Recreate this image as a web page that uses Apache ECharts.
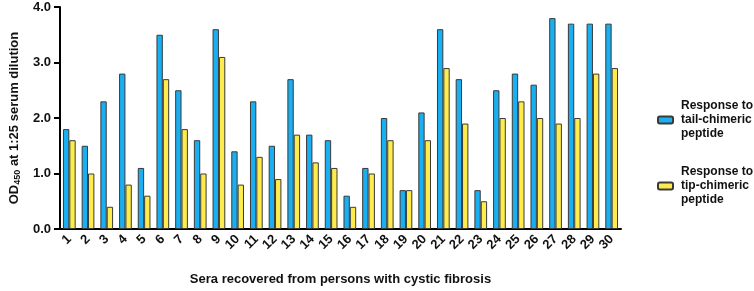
<!DOCTYPE html>
<html>
<head>
<meta charset="utf-8">
<script src="https://cdn.jsdelivr.net/npm/echarts@6/dist/echarts.min.js"></script>
<style>
  html, body { margin: 0; padding: 0; background: #fff; }
  #chart { width: 754px; height: 291px; }
</style>
</head>
<body>
<div id="chart"></div>
<script>
var sera = ['1','2','3','4','5','6','7','8','9','10','11','12','13','14','15',
            '16','17','18','19','20','21','22','23','24','25','26','27','28','29','30'];
var tailResponse = [1.8,1.5,2.3,2.8,1.1,3.5,2.5,1.6,3.6,1.4,2.3,1.5,2.7,1.7,1.6,
                    0.6,1.1,2.0,0.7,2.1,3.6,2.7,0.7,2.5,2.8,2.6,3.8,3.7,3.7,3.7];
var tipResponse = [1.6,1.0,0.4,0.8,0.6,2.7,1.8,1.0,3.1,0.8,1.3,0.9,1.7,1.2,1.1,
                   0.4,1.0,1.6,0.7,1.6,2.9,1.9,0.5,2.0,2.3,2.0,1.9,2.0,2.8,2.9];
var seriesNames = ['Response to\ntail-chimeric\npeptide', 'Response to\ntip-chimeric\npeptide'];

var font = 'Liberation Sans, Arial, sans-serif';
var chart = echarts.init(document.getElementById('chart'));

var barStyle = function (color) {
    return { color: color, borderColor: '#3a3a3a', borderWidth: 1 };
};

// one legend block per series so each can sit where the figure puts it
var legendAt = function (name, top) {
    return {
        orient: 'vertical',
        left: 652,
        top: top,
        itemWidth: 15,
        itemHeight: 7,
        textStyle: { fontFamily: font, fontWeight: 'bold', fontSize: 12, color: '#111', lineHeight: 14, padding: [0, 0, 0, 3] },
        data: [name]
    };
};

chart.setOption({
    animation: false,
    grid: { left: 52, right: 133, top: 7, bottom: 57, containLabel: false },
    legend: [legendAt(seriesNames[0], 94), legendAt(seriesNames[1], 160)],
    xAxis: {
        type: 'category',
        data: sera,
        name: 'Sera recovered from persons with cystic fibrosis',
        nameLocation: 'middle',
        nameGap: 44,
        nameTextStyle: { fontFamily: font, fontWeight: 'bold', fontSize: 13, color: '#111' },
        axisLine: { lineStyle: { color: '#000', width: 2 } },
        axisTick: { alignWithLabel: true, length: 5, lineStyle: { color: '#000', width: 2 } },
        axisLabel: { rotate: 45, margin: 8, interval: 0, fontFamily: font, fontWeight: 'bold', fontSize: 13, color: '#111' }
    },
    yAxis: {
        type: 'value',
        min: 0,
        max: 4,
        interval: 1,
        name: '{a|OD}{s|450}{a| at 1:25 serum dilution}',
        nameLocation: 'middle',
        nameGap: 36,
        nameTextStyle: {
            rich: {
                a: { fontFamily: font, fontWeight: 'bold', fontSize: 13, color: '#111' },
                s: { fontFamily: font, fontWeight: 'bold', fontSize: 9, color: '#111', verticalAlign: 'bottom', padding: [6, 0, 0, 0] }
            }
        },
        splitLine: { show: false },
        axisLine: { show: true, lineStyle: { color: '#000', width: 2 } },
        axisTick: { show: true, length: 6, lineStyle: { color: '#000', width: 2 } },
        axisLabel: {
            margin: 9,
            fontFamily: font, fontWeight: 'bold', fontSize: 13, color: '#111',
            formatter: function (v) { return v.toFixed(1); }
        }
    },
    series: [
        {
            name: seriesNames[0],
            type: 'bar',
            data: tailResponse,
            barGap: '0%',
            barCategoryGap: '32%',
            itemStyle: barStyle('#1aaff0')
        },
        {
            name: seriesNames[1],
            type: 'bar',
            data: tipResponse,
            itemStyle: barStyle('#fdec4c')
        }
    ]
});
</script>
</body>
</html>
